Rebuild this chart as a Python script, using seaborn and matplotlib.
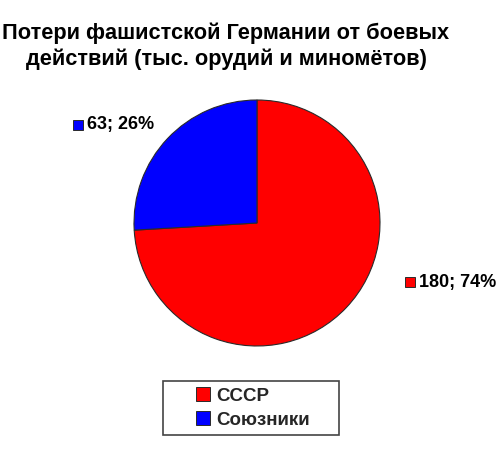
import matplotlib

matplotlib.use("Agg")

import matplotlib.pyplot as plt
import seaborn as sns
from matplotlib.patches import Patch, Rectangle

TITLE = "Потери фашистской Германии от боевых\nдействий (тыс. орудий и миномётов)"
CATEGORIES = ["СССР", "Союзники"]
VALUES = [180, 63]
COLORS = ["#FF0000", "#0000FF"]

sns.set_theme(style="white")
plt.rcParams["font.family"] = ["Liberation Sans", "DejaVu Sans"]

W, H = 500, 457
fig = plt.figure(figsize=(W / 100, H / 100), dpi=100)
fig.patch.set_facecolor("white")

# pie area: centre ~(257, 223) px, radius ~123 px
cx, cy, r = 257, 223, 123
ax = fig.add_axes([(cx - r) / W, 1 - (cy + r) / H, 2 * r / W, 2 * r / H])
wedges, _ = ax.pie(
    VALUES,
    colors=COLORS,
    startangle=90,
    counterclock=False,
    radius=1.0,
    wedgeprops=dict(edgecolor="#2a2a2a", linewidth=0.8),
)
ax.set_xlim(-1, 1)
ax.set_ylim(-1, 1)
ax.set_aspect("equal")

total = sum(VALUES)
# data labels (value; percent) with a small colour key
label_pos = {0: (410, 282), 1: (78, 125)}
for i, v in enumerate(VALUES):
    px, py = label_pos[i]
    fig.patches.append(Rectangle(((px - 5) / W, 1 - (py + 5) / H), 10 / W, 10 / H,
                                 transform=fig.transFigure, facecolor=COLORS[i],
                                 edgecolor="#2a2a2a", linewidth=0.7))
    fig.text((px + 9) / W, 1 - py / H, f"{v}; {round(v / total * 100)}%",
             fontsize=13, fontweight="bold", va="center", ha="left", color="black")

fig.text(226 / W, 1 - 46 / H, TITLE, fontsize=15.7, fontweight="bold",
         ha="center", va="center", linespacing=1.25, color="black")

handles = [Patch(facecolor=c, edgecolor="#2a2a2a", linewidth=0.7) for c in COLORS]
leg = fig.legend(handles, CATEGORIES, loc="center", bbox_to_anchor=(253 / W, 1 - 408 / H),
                 frameon=False, handlelength=0.75, handleheight=0.75, handletextpad=0.35,
                 labelspacing=0.35, prop=dict(size=13.5, weight="bold"))
fig.patches.append(Rectangle((163 / W, 1 - 435 / H), 176 / W, 54 / H,
                             transform=fig.transFigure, facecolor="none",
                             edgecolor="#444444", linewidth=1.2))

fig.savefig("out.png", dpi=100, facecolor="white")
